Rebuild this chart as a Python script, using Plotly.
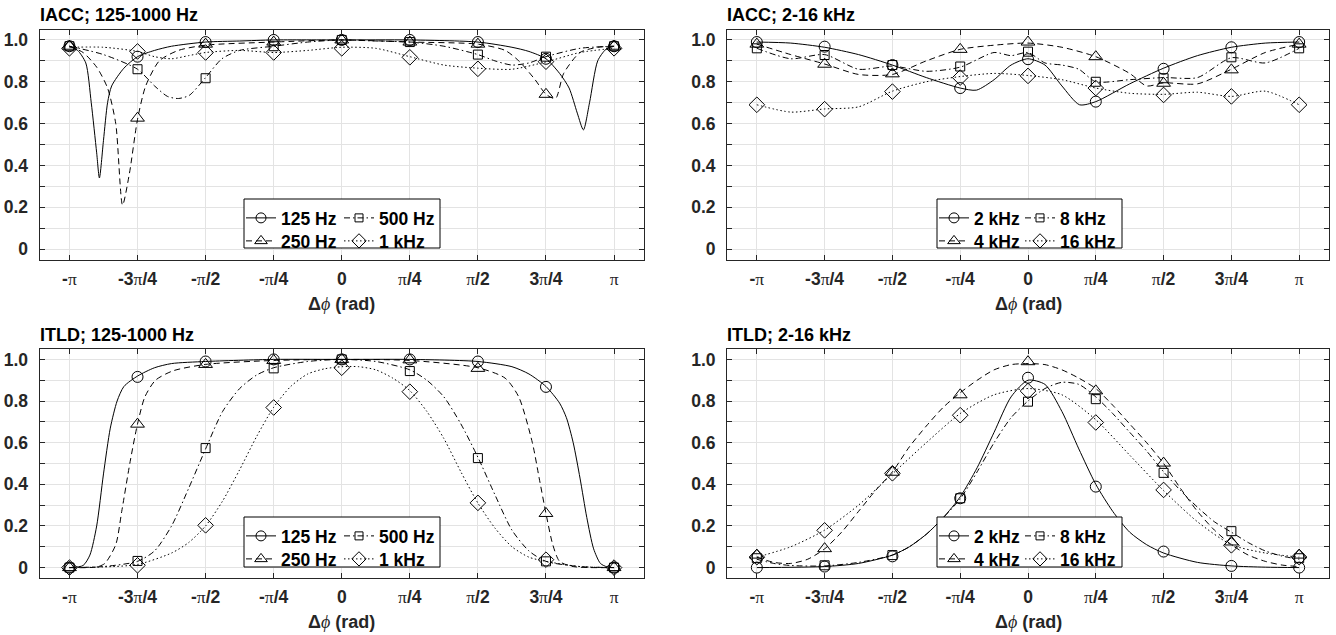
import plotly.graph_objects as go

W, H = 1336, 635

# ---------------- data (x in units of pi) ----------------
x_mark = [-1, -0.75, -0.5, -0.25, 0, 0.25, 0.5, 0.75, 1]
tick_text = ["-π", "-3π/4", "-π/2", "-π/4", "0", "π/4", "π/2", "3π/4", "π"]

# IACC 125-1000 Hz
iacc_125_m = [0.97, 0.92, 0.99, 1.0, 1.0, 1.0, 0.99, 0.91, 0.97]
iacc_250_m = [0.97, 0.626, 0.98, 0.99, 1.0, 0.99, 0.98, 0.74, 0.97]
iacc_500_m = [0.97, 0.86, 0.817, 0.97, 1.0, 0.99, 0.93, 0.92, 0.97]
iacc_1k_m = [0.96, 0.945, 0.94, 0.94, 0.96, 0.917, 0.862, 0.896, 0.96]
iacc_125_x = [-1, -0.97, -0.94, -0.92, -0.9, -0.89, -0.875, -0.86, -0.845, -0.8, -0.75, -0.6875, -0.625, -0.5, -0.375, -0.25, 0, 0.25, 0.5, 0.625, 0.6875, 0.75, 0.8, 0.835, 0.865, 0.8875, 0.91, 0.94, 0.97, 1]
iacc_125_y = [0.97, 0.95, 0.89, 0.7, 0.46, 0.34, 0.52, 0.7, 0.78, 0.865, 0.92, 0.95, 0.97, 0.99, 0.995, 1.0, 1.0, 1.0, 0.99, 0.965, 0.945, 0.91, 0.84, 0.77, 0.65, 0.57, 0.70, 0.90, 0.955, 0.97]
iacc_250_x = [-1, -0.95, -0.9, -0.86, -0.83, -0.805, -0.78, -0.75, -0.72, -0.67, -0.6, -0.5, -0.25, 0, 0.25, 0.5, 0.6, 0.65, 0.71, 0.75, 0.785, 0.815, 0.875, 0.94, 1]
iacc_250_y = [0.97, 0.94, 0.87, 0.77, 0.6, 0.21, 0.36, 0.62, 0.78, 0.9, 0.95, 0.975, 0.99, 1.0, 0.99, 0.98, 0.95, 0.9, 0.81, 0.74, 0.72, 0.84, 0.94, 0.965, 0.97]
iacc_500_x = [-1, -0.875, -0.75, -0.6875, -0.64, -0.6, -0.56, -0.5, -0.44, -0.375, -0.25, -0.125, 0, 0.125, 0.25, 0.375, 0.5, 0.5625, 0.625, 0.6875, 0.75, 0.875, 1]
iacc_500_y = [0.97, 0.93, 0.86, 0.78, 0.73, 0.72, 0.735, 0.82, 0.91, 0.95, 0.97, 0.99, 1.0, 0.995, 0.99, 0.97, 0.93, 0.9, 0.88, 0.89, 0.92, 0.96, 0.97]
iacc_1k_x = [-1, -0.875, -0.75, -0.6875, -0.625, -0.5625, -0.5, -0.375, -0.25, -0.125, 0, 0.125, 0.25, 0.375, 0.5, 0.625, 0.75, 0.875, 1]
iacc_1k_y = [0.965, 0.965, 0.945, 0.92, 0.91, 0.925, 0.94, 0.95, 0.94, 0.95, 0.965, 0.96, 0.92, 0.88, 0.865, 0.86, 0.895, 0.94, 0.96]

# IACC 2-16 kHz
iacc_2k_m = [0.99, 0.968, 0.88, 0.77, 0.908, 0.705, 0.862, 0.965, 0.99]
iacc_4k_m = [0.98, 0.884, 0.838, 0.955, 0.99, 0.92, 0.793, 0.857, 0.98]
iacc_8k_m = [0.96, 0.928, 0.88, 0.873, 0.944, 0.80, 0.817, 0.917, 0.96]
iacc_16k_m = [0.69, 0.669, 0.753, 0.82, 0.828, 0.77, 0.737, 0.73, 0.69]
iacc_2k_x = [-1, -0.875, -0.75, -0.625, -0.5, -0.375, -0.25, -0.19, -0.125, -0.0625, 0, 0.0625, 0.125, 0.19, 0.25, 0.375, 0.5, 0.625, 0.75, 0.875, 1]
iacc_2k_y = [0.99, 0.985, 0.965, 0.93, 0.88, 0.82, 0.77, 0.76, 0.81, 0.88, 0.91, 0.88, 0.78, 0.69, 0.705, 0.79, 0.865, 0.925, 0.965, 0.985, 0.99]
iacc_4k_x = [-1, -0.875, -0.75, -0.625, -0.5, -0.375, -0.25, -0.125, 0, 0.125, 0.25, 0.375, 0.4375, 0.5, 0.625, 0.75, 0.875, 1]
iacc_4k_y = [0.98, 0.93, 0.885, 0.835, 0.835, 0.9, 0.955, 0.975, 0.985, 0.965, 0.92, 0.84, 0.78, 0.795, 0.79, 0.86, 0.94, 0.98]
iacc_8k_x = [-1, -0.875, -0.75, -0.625, -0.5, -0.375, -0.25, -0.125, -0.0625, 0, 0.0625, 0.125, 0.1875, 0.25, 0.375, 0.5, 0.625, 0.75, 0.875, 1]
iacc_8k_y = [0.96, 0.91, 0.93, 0.86, 0.875, 0.85, 0.87, 0.94, 0.925, 0.94, 0.89, 0.88, 0.86, 0.80, 0.81, 0.82, 0.82, 0.915, 0.89, 0.96]
iacc_16k_x = [-1, -0.875, -0.75, -0.625, -0.5, -0.375, -0.25, -0.125, 0, 0.125, 0.25, 0.375, 0.5, 0.625, 0.75, 0.875, 1]
iacc_16k_y = [0.69, 0.655, 0.67, 0.68, 0.755, 0.8, 0.825, 0.84, 0.83, 0.81, 0.77, 0.745, 0.74, 0.75, 0.73, 0.755, 0.69]

# ITLD 125-1000 Hz
itld_125_m = [0, 0.916, 0.99, 1.0, 1.0, 1.0, 0.99, 0.868, 0]
itld_250_m = [0, 0.689, 0.976, 0.995, 1.0, 0.998, 0.957, 0.26, 0]
itld_500_m = [0, 0.032, 0.574, 0.957, 1.0, 0.944, 0.526, 0.03, 0]
itld_1k_m = [0, 0.011, 0.203, 0.769, 0.96, 0.845, 0.311, 0.038, 0]
itld_125_x = [-1, -0.95, -0.925, -0.9, -0.875, -0.85, -0.825, -0.8, -0.75, -0.6875, -0.625, -0.5, -0.25, 0, 0.25, 0.5, 0.625, 0.6875, 0.75, 0.8, 0.825, 0.85, 0.875, 0.9, 0.925, 0.95, 0.975, 1]
itld_125_y = [0, 0.01, 0.06, 0.2, 0.45, 0.67, 0.8, 0.87, 0.92, 0.96, 0.98, 0.99, 1.0, 1.0, 1.0, 0.99, 0.965, 0.93, 0.87, 0.79, 0.72, 0.6, 0.43, 0.24, 0.09, 0.02, 0.003, 0]
itld_250_x = [-1, -0.9, -0.87, -0.83, -0.808, -0.777, -0.75, -0.723, -0.684, -0.62, -0.5, -0.25, 0, 0.25, 0.5, 0.6, 0.65, 0.7, 0.725, 0.75, 0.775, 0.8, 0.85, 1]
itld_250_y = [0, 0.003, 0.02, 0.11, 0.27, 0.51, 0.69, 0.82, 0.9, 0.945, 0.976, 0.995, 1.0, 0.995, 0.96, 0.91, 0.82, 0.6, 0.43, 0.26, 0.11, 0.03, 0.005, 0]
itld_500_x = [-1, -0.875, -0.75, -0.6875, -0.625, -0.5625, -0.5, -0.4375, -0.375, -0.3125, -0.25, -0.125, 0, 0.125, 0.25, 0.3125, 0.375, 0.4375, 0.5, 0.5625, 0.625, 0.6875, 0.75, 0.875, 1]
itld_500_y = [0, 0.005, 0.03, 0.08, 0.2, 0.38, 0.57, 0.75, 0.86, 0.925, 0.96, 0.99, 1.0, 0.99, 0.95, 0.9, 0.82, 0.69, 0.53, 0.35, 0.18, 0.08, 0.03, 0.005, 0]
itld_1k_x = [-1, -0.875, -0.75, -0.625, -0.5625, -0.5, -0.4375, -0.375, -0.3125, -0.25, -0.1875, -0.125, -0.0625, 0, 0.0625, 0.125, 0.1875, 0.25, 0.3125, 0.375, 0.4375, 0.5, 0.5625, 0.625, 0.6875, 0.75, 0.875, 1]
itld_1k_y = [0, 0.003, 0.015, 0.07, 0.12, 0.2, 0.32, 0.47, 0.63, 0.77, 0.87, 0.93, 0.955, 0.965, 0.965, 0.95, 0.91, 0.85, 0.75, 0.62, 0.46, 0.31, 0.19, 0.1, 0.05, 0.03, 0.005, 0]

# ITLD 2-16 kHz
itld_2k_m = [0, 0.005, 0.054, 0.333, 0.912, 0.389, 0.077, 0.008, 0]
itld_4k_m = [0.06, 0.091, 0.458, 0.83, 0.989, 0.849, 0.502, 0.123, 0.06]
itld_8k_m = [0.045, 0.011, 0.06, 0.333, 0.797, 0.809, 0.455, 0.175, 0.045]
itld_16k_m = [0.05, 0.179, 0.453, 0.732, 0.848, 0.697, 0.373, 0.107, 0.05]
itld_2k_x = [-1, -0.75, -0.625, -0.5, -0.4375, -0.375, -0.3125, -0.25, -0.1875, -0.125, -0.0625, 0, 0.0625, 0.125, 0.1875, 0.25, 0.3125, 0.375, 0.4375, 0.5, 0.625, 0.75, 0.875, 1]
itld_2k_y = [0, 0.005, 0.02, 0.06, 0.1, 0.16, 0.24, 0.34, 0.48, 0.65, 0.82, 0.9, 0.88, 0.75, 0.57, 0.4, 0.27, 0.17, 0.11, 0.07, 0.025, 0.008, 0.002, 0]
itld_4k_x = [-1, -0.9375, -0.875, -0.8125, -0.75, -0.6875, -0.625, -0.5625, -0.5, -0.4375, -0.375, -0.3125, -0.25, -0.1875, -0.125, -0.0625, 0, 0.0625, 0.125, 0.1875, 0.25, 0.3125, 0.375, 0.4375, 0.5, 0.5625, 0.625, 0.6875, 0.75, 0.8125, 0.875, 0.9375, 1]
itld_4k_y = [0.05, 0.025, 0.02, 0.04, 0.09, 0.17, 0.27, 0.37, 0.46, 0.58, 0.68, 0.77, 0.84, 0.9, 0.95, 0.975, 0.98, 0.975, 0.95, 0.91, 0.86, 0.78, 0.69, 0.6, 0.5, 0.38, 0.27, 0.18, 0.11, 0.06, 0.03, 0.012, 0.005]
itld_8k_x = [-1, -0.9375, -0.875, -0.75, -0.625, -0.5, -0.4375, -0.375, -0.3125, -0.25, -0.1875, -0.125, -0.0625, 0, 0.0625, 0.125, 0.1875, 0.25, 0.3125, 0.375, 0.4375, 0.5, 0.5625, 0.625, 0.6875, 0.75, 0.8125, 0.875, 0.9375, 1]
itld_8k_y = [0.04, 0.02, 0.01, 0.008, 0.025, 0.06, 0.1, 0.16, 0.24, 0.33, 0.46, 0.6, 0.72, 0.8, 0.86, 0.89, 0.88, 0.82, 0.74, 0.65, 0.56, 0.46, 0.37, 0.29, 0.22, 0.17, 0.12, 0.08, 0.055, 0.04]
itld_16k_x = [-1, -0.875, -0.75, -0.625, -0.5, -0.375, -0.25, -0.125, 0, 0.125, 0.25, 0.375, 0.5, 0.625, 0.75, 0.875, 1]
itld_16k_y = [0.05, 0.1, 0.18, 0.3, 0.45, 0.6, 0.74, 0.83, 0.86, 0.83, 0.71, 0.54, 0.37, 0.22, 0.11, 0.07, 0.05]

low_names = ["125 Hz", "250 Hz", "500 Hz", "1 kHz"]
high_names = ["2 kHz", "4 kHz", "8 kHz", "16 kHz"]
panel_titles = ["IACC; 125-1000 Hz", "IACC; 2-16 kHz", "ITLD; 125-1000 Hz", "ITLD; 2-16 kHz"]

# ---------------- style ----------------
DASHES = ["solid", "6px,4px", "6px,3px,1.5px,3px", "1.5px,2.5px"]
SYMBOLS = ["circle-open", "triangle-up-open", "square-open", "diamond-open"]
MSIZES = [11, 12, 9, 12]
AX = "#262626"
GRID = "#e3e3e3"
FONT = "Liberation Sans"
FS = 17.5

# pixel geometry of the four panels: (left, right, top, bottom)
boxes = [(39.5, 644, 29.5, 259.5), (727, 1329, 29.5, 259.5),
         (39.5, 644, 349, 578), (727, 1329, 349, 578)]
# legend frame (left, right, top, bottom) and sample start of the two columns
leg_boxes = [(244, 440, 199, 248), (937, 1122, 199, 248),
             (244, 440, 517, 567), (937, 1122, 517, 567)]
leg_cols = [(247, 345), (940, 1026), (247, 345), (940, 1026)]
# legend item grid: series index -> (row, column); MATLAB fills columns first
item_pos = [(0, 0), (1, 0), (0, 1), (1, 1)]

def px(x):
    return x / W

def py(y):
    return 1 - y / H

panels = [
    (low_names, [(iacc_125_x, iacc_125_y, iacc_125_m), (iacc_250_x, iacc_250_y, iacc_250_m),
                 (iacc_500_x, iacc_500_y, iacc_500_m), (iacc_1k_x, iacc_1k_y, iacc_1k_m)]),
    (high_names, [(iacc_2k_x, iacc_2k_y, iacc_2k_m), (iacc_4k_x, iacc_4k_y, iacc_4k_m),
                  (iacc_8k_x, iacc_8k_y, iacc_8k_m), (iacc_16k_x, iacc_16k_y, iacc_16k_m)]),
    (low_names, [(itld_125_x, itld_125_y, itld_125_m), (itld_250_x, itld_250_y, itld_250_m),
                 (itld_500_x, itld_500_y, itld_500_m), (itld_1k_x, itld_1k_y, itld_1k_m)]),
    (high_names, [(itld_2k_x, itld_2k_y, itld_2k_m), (itld_4k_x, itld_4k_y, itld_4k_m),
                  (itld_8k_x, itld_8k_y, itld_8k_m), (itld_16k_x, itld_16k_y, itld_16k_m)]),
]

pi_span = "<span style='font-family:Liberation Serif;font-weight:normal'>π</span>"
ticktext = [t.replace("π", pi_span) for t in tick_text]

fig = go.Figure()
layout = dict(width=W, height=H, margin=dict(l=0, r=0, t=0, b=0),
              paper_bgcolor="white", plot_bgcolor="white",
              font=dict(family=FONT, size=FS, color=AX, weight="bold"),
              shapes=[], annotations=[])

legend_count = 0
for p, (names, series) in enumerate(panels):
    sfx = "" if p == 0 else str(p + 1)
    xa, ya = "x" + sfx, "y" + sfx
    l, r, t, b = boxes[p]
    layout["xaxis" + sfx] = dict(
        domain=[px(l), px(r)], anchor=ya, range=[-1.11, 1.11],
        tickmode="array", tickvals=x_mark, ticktext=ticktext,
        ticks="inside", ticklen=5, tickcolor=AX, showline=True, linecolor=AX,
        linewidth=1, mirror="ticks", showgrid=True, gridcolor=GRID, gridwidth=1,
        zeroline=False, tickfont=dict(size=FS, color=AX, family=FONT, weight="bold"),
        ticklabelstandoff=3)
    layout["yaxis" + sfx] = dict(
        domain=[py(b), py(t)], anchor=xa, range=[-0.05, 1.05],
        tickmode="array", tickvals=[0, 0.2, 0.4, 0.6, 0.8, 1.0],
        ticktext=["0", "0.2", "0.4", "0.6", "0.8", "1.0"],
        ticks="inside", ticklen=5, tickcolor=AX, showline=True, linecolor=AX,
        linewidth=1, mirror="ticks", showgrid=True, gridcolor=GRID, gridwidth=1,
        zeroline=False, tickfont=dict(size=FS, color=AX, family=FONT, weight="bold"),
        ticklabelstandoff=7,
        minor=dict(tickmode="array", tickvals=[0.1, 0.3, 0.5, 0.7, 0.9], ticks="inside",
                   ticklen=5, tickcolor=AX, showgrid=True, gridcolor=GRID, gridwidth=1))

    for k, (cx, cy, my) in enumerate(series):
        fig.add_trace(go.Scatter(x=cx, y=cy, xaxis=xa, yaxis=ya, mode="lines",
                                 line=dict(color="black", width=1, dash=DASHES[k],
                                           shape="spline", smoothing=0.7),
                                 showlegend=False, hoverinfo="skip"))
        fig.add_trace(go.Scatter(x=x_mark, y=my, xaxis=xa, yaxis=ya, mode="markers",
                                 marker=dict(symbol=SYMBOLS[k], size=MSIZES[k], color="black",
                                             line=dict(width=1, color="black")),
                                 showlegend=False))

    # legend: one single-item legend per entry, inside a framed box
    ll, lr, lt, lb = leg_boxes[p]
    layout["shapes"].append(dict(type="rect", xref="paper", yref="paper",
                                 x0=px(ll), x1=px(lr), y0=py(lb), y1=py(lt),
                                 fillcolor="white", line=dict(color="black", width=1),
                                 layer="above"))
    for k in range(4):
        legend_count += 1
        lid = "legend" if legend_count == 1 else "legend" + str(legend_count)
        rr, cc = item_pos[k]
        fig.add_trace(go.Scatter(x=[None], y=[None], xaxis=xa, yaxis=ya,
                                 mode="lines+markers", name=names[k], legend=lid,
                                 line=dict(color="black", width=1, dash=DASHES[k]),
                                 marker=dict(symbol=SYMBOLS[k], size=MSIZES[k] - 1, color="black",
                                             line=dict(width=1, color="black"))))
        layout[lid] = dict(orientation="h", x=px(leg_cols[p][cc] - 6), xanchor="left",
                           y=py(lt + 1 + rr * 23), yanchor="top",
                           bgcolor="rgba(0,0,0,0)", borderwidth=0, itemwidth=30,
                           font=dict(size=FS, color="black", family=FONT, weight="bold"))

    # panel title and x-axis title
    layout["annotations"].append(dict(text=panel_titles[p], xref="paper", yref="paper",
                                      x=px(l - 2), y=py(t - 14), xanchor="left", yanchor="middle",
                                      showarrow=False,
                                      font=dict(size=18, color="black", family=FONT, weight="bold")))
    layout["annotations"].append(dict(
        text="Δ<span style='font-family:Liberation Serif;font-style:italic;font-weight:normal'>ϕ</span> (rad)",
        xref="paper", yref="paper", x=px((l + r) / 2), y=py(b + 44),
        xanchor="center", yanchor="middle", showarrow=False,
        font=dict(size=18, color=AX, family=FONT, weight="bold")))

fig.update_layout(**layout)
fig.write_html("out.html", config={"displayModeBar": False},
               post_script="document.body.style.margin='0';document.body.style.overflow='hidden';")
